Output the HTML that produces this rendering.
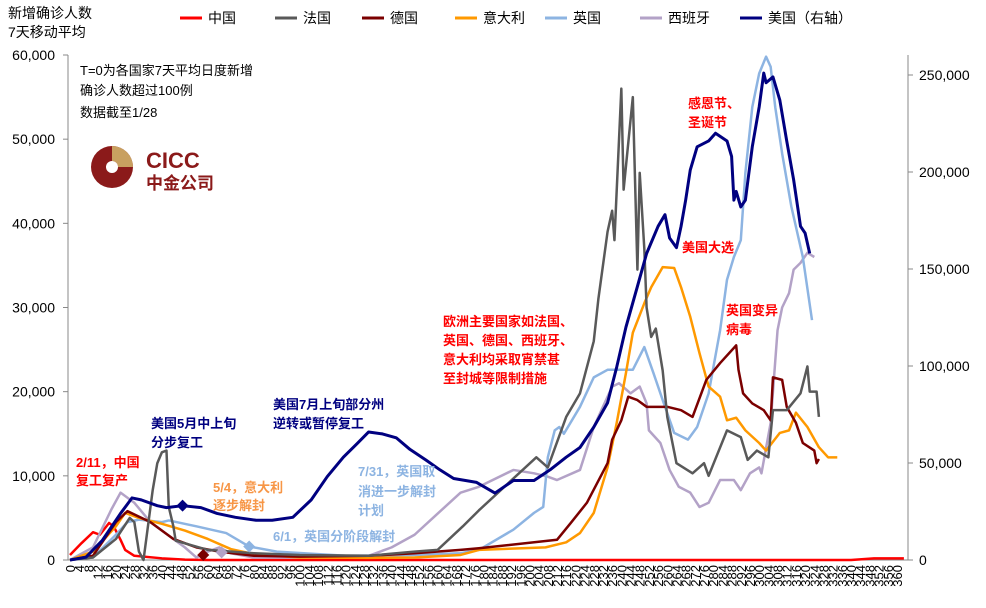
<!DOCTYPE html>
<html><head><meta charset="utf-8"><style>
body{margin:0;background:#fff;}
svg text{font-family:"Liberation Sans","Noto Sans CJK SC",sans-serif;}
</style></head><body>
<svg id="c" width="986" height="603" xmlns="http://www.w3.org/2000/svg">
<g id="axes"></g><g id="series"></g><g id="anno"></g>
</svg>
<script>
const xTicks=[];for(let d=0;d<=360;d+=4)xTicks.push(d);
const leftTicks=[0,10000,20000,30000,40000,50000,60000];
const rightTicks=[0,50000,100000,150000,200000,250000];
const chinaDays=[0,5,10,13,17,19,22,24,28,40,50,60,340,350,363];
const chinaVals=[600,2000,3300,3000,4400,4000,2400,1200,500,200,50,0,0,200,200];
const franceDays=[0,10,20,26,28,30,32,36,38,40,42,43,45,46,60,80,100,130,150,160,171,178,203,208,216,222,228,230,234,236,237,239,240,241,245,247,248,250,251,253,255,258,260,264,271,276,278,286,292,295,299,304,306,312,318,321,322,325,326];
const franceVals=[0,300,2500,5000,4500,1000,0,8300,11500,12800,13000,6300,4000,2300,1200,800,600,500,1000,1200,4000,5900,12200,11000,17000,19800,26000,31000,39000,41500,38000,50000,56000,44000,55000,34500,46000,37000,30000,26500,27500,22500,17000,11500,10300,11500,10000,15400,14600,11900,13000,12200,17800,17800,19800,23000,20000,20000,17000];
const germanyDays=[0,10,20,25,35,45,55,65,80,100,130,150,170,178,212,218,225,234,236,240,243,247,251,260,266,271,277,283,290,291,293,297,302,305,306,310,312,316,319,324,325,326];
const germanyVals=[0,500,4500,5800,4500,2500,1500,1000,500,400,500,800,1200,1400,2400,4400,6800,11500,14300,16600,19400,19000,18200,18200,17800,17000,21400,23400,25500,22600,19800,18600,17800,16600,21700,21400,18200,16300,13900,13000,11500,12000];
const italyDays=[0,10,20,24,30,40,50,60,70,80,100,130,150,170,178,207,216,222,228,234,238,242,245,250,253,258,263,266,270,274,278,283,286,290,294,300,303,309,313,316,321,326,330,334];
const italyVals=[0,1000,4000,5600,5000,4300,3500,2500,1300,700,300,250,300,600,1200,1500,2100,3200,5600,11000,16300,22200,27000,30500,32400,34800,34700,32400,28900,24600,20600,19400,16600,16900,15400,13900,13000,15100,15400,17500,15800,13400,12200,12200];
const ukDays=[0,10,20,25,30,40,43,55,68,78,90,120,150,170,178,193,202,206,208,211,213,215,222,228,234,240,245,250,254,258,263,269,273,278,283,286,289,292,294,297,300,303,305,307,310,314,319,323];
const ukVals=[0,300,3000,4500,4800,4500,4700,4000,3200,1600,1000,500,600,800,1200,3600,5600,6300,12200,15400,15800,15000,18200,21700,22600,22600,22600,25300,22200,19000,15100,14300,15800,19800,27300,33300,36000,38000,46000,53800,57800,59800,58600,53800,48300,42000,36000,28500];
const spainDays=[0,10,18,22,28,35,45,50,55,60,65,70,80,110,130,140,150,160,170,178,193,202,208,212,222,228,232,236,239,244,248,251,252,257,261,265,270,274,278,283,289,292,296,300,301,305,308,310,313,315,318,321,324];
const spainVals=[0,1500,6000,8000,6800,4500,2500,1500,300,1000,1500,800,300,300,500,1500,3000,5500,8000,8700,10700,10300,9900,9500,10700,15800,18200,20600,21000,19800,20600,18600,15400,13900,10700,8700,8000,6300,6800,9500,9500,8300,10300,11000,10300,16300,27300,30000,31700,34500,35300,36500,36000];
const usDays=[0,7,14,22,27,31,38,42,49,57,64,72,81,88,97,105,112,119,125,130,136,142,148,155,161,167,177,185,193,202,209,216,222,228,234,238,242,247,251,256,259,261,264,266,268,270,273,278,281,286,288,289,290,292,294,297,300,302,303,306,309,312,315,318,320,322];
const usVals=[0,1500,10000,24000,32000,31000,28000,27000,28000,27000,24000,22000,20500,20500,22000,31000,43000,53000,60000,66000,65000,63000,57000,51500,46500,42000,40000,34500,41000,41000,46500,53000,58000,68500,81000,99500,120000,141000,158000,172000,178000,166000,161000,172000,185500,201000,213000,216000,220000,216000,208000,185500,190000,182000,185500,213000,233500,251000,246000,249000,237000,216000,196000,172000,168500,158000];

const NS="http://www.w3.org/2000/svg";
const X0=70,X1=897,YB=560;
const xS=d=>X0+d*(X1-X0)/360;
const yL=v=>YB-v*(505/60000);
const yR=v=>YB-v*(97/50000);
function mk(tag,attrs,parent){const e=document.createElementNS(NS,tag);for(const k in attrs)e.setAttribute(k,attrs[k]);parent.appendChild(e);return e;}
const axes=document.getElementById('axes'),ser=document.getElementById('series'),anno=document.getElementById('anno');
let a=mk('line',{x1:68,y1:55,x2:68,y2:560,stroke:'#888','stroke-width':1},axes);

a=mk('line',{x1:908,y1:55,x2:908,y2:560,stroke:'#888','stroke-width':1},axes);

a=mk('line',{x1:68,y1:560,x2:908,y2:560,stroke:'#888','stroke-width':1},axes);

leftTicks.forEach(v=>{mk('line',{x1:63,x2:68,y1:yL(v),y2:yL(v),stroke:'#888'},axes);
 const t=mk('text',{x:55,y:yL(v)+5,'text-anchor':'end','font-size':14,fill:'#000'},axes);t.textContent=v.toLocaleString('en-US');
 });
rightTicks.forEach(v=>{mk('line',{x1:908,x2:913,y1:yR(v),y2:yR(v),stroke:'#888'},axes);
 const t=mk('text',{x:919,y:yR(v)+5,'font-size':14,fill:'#000'},axes);t.textContent=v.toLocaleString('en-US');
 });
xTicks.forEach(d=>{const x=xS(d);
 const t=mk('text',{x:0,y:0,'font-size':13,fill:'#000','text-anchor':'end',transform:`translate(${x+5},565) rotate(-90)`},axes);t.textContent=d;
 });
function line(days,vals,yf,color,name,w){
 const p=mk('polyline',{points:days.map((d,i)=>xS(d)+','+yf(vals[i])).join(' '),fill:'none',stroke:color,'stroke-width':w||2.5,'stroke-linejoin':'round'},ser);
 }
line(chinaDays,chinaVals,yL,'#ff0000','china-line');
line(spainDays,spainVals,yL,'#b3a2c7','spain-line');
line(ukDays,ukVals,yL,'#8db4e2','uk-line');
line(italyDays,italyVals,yL,'#ff9900','italy-line');
line(germanyDays,germanyVals,yL,'#7b0000','germany-line');
line(franceDays,franceVals,yL,'#595959','france-line');
line(usDays,usVals,yR,'#000080','us-line',3);
function dia(x,y,c,name){const p=mk('path',{d:`M${x},${y-6}L${x+6},${y}L${x},${y+6}L${x-6},${y}Z`,fill:c},ser);
 }
dia(xS(49),yR(28000),'#000080','us-reopen-marker');
dia(xS(58),yL(600),'#7b0000','germany-marker');
dia(xS(66),yL(900),'#b3a2c7','spain-marker');
dia(xS(78),yL(1600),'#8db4e2','uk-reopen-marker');
// legend
const leg=[['中国','#ff0000',180],['法国','#595959',275],['德国','#7b0000',362],['意大利','#ff9900',455],['英国','#8db4e2',545],['西班牙','#b3a2c7',640],['美国（右轴）','#000080',740]];
leg.forEach(([n,c,x])=>{const g=mk('g',{},anno);
 mk('line',{x1:x,x2:x+22,y1:18,y2:18,stroke:c,'stroke-width':3},g);
 const t=mk('text',{x:x+28,y:23,'font-size':14,fill:'#000'},g);t.textContent=n;});
function txt(s,x,y,c,size,name,bold){const t=mk('text',{x:x,y:y,'font-size':size,fill:c,'font-weight':bold?'bold':'normal'},anno);t.textContent=s;
 return t;}
txt('新增确诊人数',8,18,'#000',14,'left-axis-title');txt('7天移动平均',8,37,'#000',14,'left-axis-title-2');
txt('T=0为各国家7天平均日度新增',80,75,'#000',13,'note-line1');txt('确诊人数超过100例',80,95,'#000',13,'note-line2');txt('数据截至1/28',80,117,'#000',13,'note-line3');
// logo
const lg=mk('g',{},anno);
mk('circle',{cx:112,cy:167,r:21,fill:'#8b1a1a'},lg);
mk('path',{d:'M112,146 A21,21 0 0 1 133,167 L118,167 A6,6 0 0 0 112,161 Z',fill:'#c8a060'},lg);
mk('circle',{cx:112,cy:167,r:6,fill:'#fff'},lg);
const t1=mk('text',{x:146,y:168,'font-size':22,'font-weight':'bold',fill:'#8b1a1a'},lg);t1.textContent='CICC';
const t2=mk('text',{x:146,y:189,'font-size':17,'font-weight':'bold',fill:'#8b1a1a'},lg);t2.textContent='中金公司';
const R='#ff0000',N='#000080',O='#f79646',B='#8db4e2';
txt('2/11，中国',76,467,R,13,'anno-china',1);txt('复工复产',76,485,R,13,'anno-china-2',1);
txt('美国5月中上旬',151,428,N,13,'anno-us-may',1);txt('分步复工',151,447,N,13,'anno-us-may-2',1);
txt('美国7月上旬部分州',273,409,N,13,'anno-us-jul',1);txt('逆转或暂停复工',273,428,N,13,'anno-us-jul-2',1);
txt('5/4，意大利',213,492,O,13,'anno-italy',1);txt('逐步解封',213,510,O,13,'anno-italy-2',1);
txt('6/1，英国分阶段解封',273,541,B,13,'anno-uk-jun',1);
txt('7/31，英国取',358,476,B,13,'anno-uk-jul',1);txt('消进一步解封',358,496,B,13,'anno-uk-jul-2',1);txt('计划',358,515,B,13,'anno-uk-jul-3',1);
txt('欧洲主要国家如法国、',443,326,R,13,'anno-europe',1);txt('英国、德国、西班牙、',443,345,R,13,'anno-europe-2',1);
txt('意大利均采取宵禁甚',443,364,R,13,'anno-europe-3',1);txt('至封城等限制措施',443,383,R,13,'anno-europe-4',1);
txt('感恩节、',688,108,R,13,'anno-holiday',1);txt('圣诞节',688,127,R,13,'anno-holiday-2',1);
txt('美国大选',682,252,R,13,'anno-election',1);
txt('英国变异',726,315,R,13,'anno-variant',1);txt('病毒',726,334,R,13,'anno-variant-2',1);
</script>
</body></html>
